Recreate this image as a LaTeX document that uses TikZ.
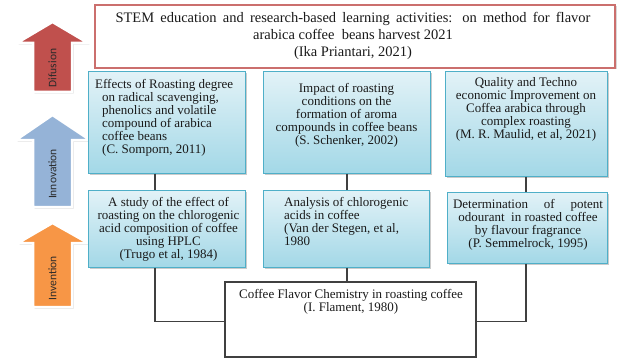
\documentclass[tikz,border=0pt]{standalone}
\usepackage{fontspec}
\setmainfont{Liberation Serif}
\newfontfamily\arrowfont{Carlito}
\usetikzlibrary{shadows}
\definecolor{cyanborder}{HTML}{4FAFC8}
\definecolor{cyantop}{HTML}{E2F2F7}
\definecolor{cyanbot}{HTML}{A3D8E7}
\definecolor{redborder}{HTML}{CB6F6D}
\definecolor{redarrow}{HTML}{C0504D}
\definecolor{bluearrow}{HTML}{95B3D7}
\definecolor{orangearrow}{HTML}{F79646}
\definecolor{linegray}{HTML}{404040}
\definecolor{arrowtext}{HTML}{2A2A2A}
\definecolor{textcol}{HTML}{1A1A1A}
\tikzset{
  cbox/.style={draw=cyanborder, line width=1pt, top color=cyantop, bottom color=cyanbot,
    drop shadow={shadow xshift=1.5pt, shadow yshift=-1.5pt, fill=black!40, opacity=0.5},
    inner sep=0pt},
  redbox/.style={draw=redborder, line width=1.4pt, fill=white,
    drop shadow={shadow xshift=1.5pt, shadow yshift=-1.5pt, fill=black!30, opacity=0.5},
    inner sep=0pt},
  plainbox/.style={draw=linegray, line width=1.5pt, fill=white, inner sep=0pt},
  txt/.style={inner sep=0pt, font=\fontsize{13}{13}\selectfont, text=textcol},
  bigtxt/.style={inner sep=0pt, font=\fontsize{14.5}{17}\selectfont, text=textcol},
  conn/.style={draw=linegray, line width=1.4pt},
  bigarrow/.style={draw=white, line width=2.5pt, line join=miter,
    drop shadow={shadow xshift=1.5pt, shadow yshift=-1.5pt, fill=black!35, opacity=0.5}},
  arrowlabel/.style={rotate=90, inner sep=0pt, text=arrowtext, font=\arrowfont\fontsize{11.5}{12}\selectfont}
}
\begin{document}
\begin{tikzpicture}[x=1pt,y=-1pt]
\useasboundingbox (0,0) rectangle (619,361);
\fill[white] (0,0) rectangle (619,361);

% left arrows
\path[bigarrow, fill=redarrow] (33,92) -- (33,43) -- (17,43) -- (52.5,22) -- (88,43) -- (72,43) -- (72,92) -- cycle;
\node[arrowlabel] (difusion) at (52.5,68) {Difusion};
\path[bigarrow, fill=bluearrow] (33,207) -- (33,140) -- (16,140) -- (52.5,115) -- (90,140) -- (72,140) -- (72,207) -- cycle;
\node[arrowlabel] (innovation) at (52.5,174) {Innovation};
\path[bigarrow, fill=orangearrow] (33,307) -- (33,243) -- (18,243) -- (52.5,223) -- (88,243) -- (72,243) -- (72,307) -- cycle;
\node[arrowlabel] (invention) at (52.5,278) {Invention};

% top box
\node[redbox, minimum width=520pt, minimum height=63pt] (top) at (355,36.5) {};
\node[bigtxt, align=center, anchor=north] (toptxt) at (353,12.5) {\makebox[475pt][s]{STEM education and research-based learning activities: on method for flavor}\\arabica coffee\ \ beans harvest 2021\\(Ika Priantari, 2021)};

% innovation row
\node[cbox, minimum width=157pt, minimum height=101pt] (i1) at (166.5,122.5) {};
\node[txt, align=left, anchor=north west] (i1t) at (95,79.5) {Effects of Roasting degree\\\hspace*{7pt}on radical scavenging,\\\hspace*{7pt}phenolics and volatile\\\hspace*{7pt}compound of arabica\\\hspace*{7pt}coffee beans\\\hspace*{7pt}(C. Somporn, 2011)};
\node[cbox, minimum width=167pt, minimum height=101pt] (i2) at (346.5,122.5) {};
\node[txt, align=center, anchor=north] (i2t) at (346.5,83.5) {Impact of roasting\\conditions on the\\formation of aroma\\compounds in coffee beans\\(S. Schenker, 2002)};
\node[cbox, minimum width=162pt, minimum height=104pt] (i3) at (526,124) {};
\node[txt, align=center, anchor=north] (i3t) at (526,77.5) {Quality and Techno\\economic Improvement on\\Coffea arabica through\\complex roasting\\(M. R. Maulid, et al, 2021)};

% invention row
\node[cbox, minimum width=157pt, minimum height=77pt] (v1) at (166.5,228.5) {};
\node[txt, align=center, anchor=north] (v1t) at (168.5,197.5) {A study of the effect of\\roasting on the chlorogenic\\acid composition of coffee\\using HPLC\\(Trugo et al, 1984)};
\node[cbox, minimum width=166pt, minimum height=77pt] (v2) at (346,228.5) {};
\node[txt, align=left, anchor=north west] (v2t) at (284,197.5) {Analysis of chlorogenic\\acids in coffee\\(Van der Stegen, et al,\\1980};
\node[cbox, minimum width=160pt, minimum height=71pt] (v3) at (527,227.5) {};
\node[txt, align=center, anchor=north] (v3t) at (528,199.5) {\makebox[150pt][s]{Determination of potent}\\odourant \ in roasted coffee\\by flavour fragrance\\(P. Semmelrock, 1995)};

% bottom box
\node[plainbox, minimum width=251pt, minimum height=75pt] (base) at (350.5,319.5) {};
\node[txt, align=center, anchor=north] (baset) at (351,289.5) {Coffee Flavor Chemistry in roasting coffee\\(I. Flament, 1980)};

% connectors
\coordinate (xa) at (155,0);
\coordinate (xb) at (347,0);
\coordinate (xc) at (526,0);
\coordinate (yj) at (0,321.5);
\draw[conn] (i1.south -| xa) -- (v1.north -| xa);
\draw[conn] (i2.south -| xb) -- (v2.north -| xb);
\draw[conn] (i3.south -| xc) -- (v3.north -| xc);
\draw[conn] (v1.south -| xa) |- (base.west |- yj);
\draw[conn] (v2.south -| xb) -- (base.north -| xb);
\draw[conn] (v3.south -| xc) |- (base.east |- yj);
\end{tikzpicture}
\end{document}
